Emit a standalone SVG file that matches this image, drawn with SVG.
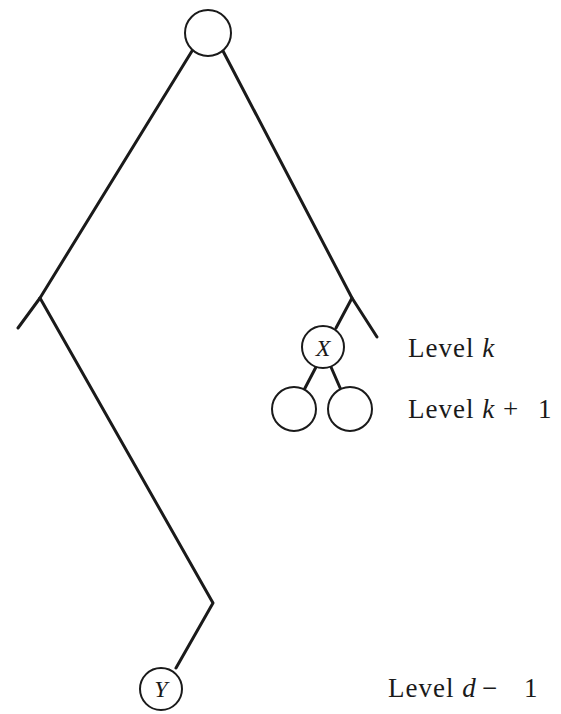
<svg xmlns="http://www.w3.org/2000/svg" width="561" height="714" viewBox="0 0 561 714">
<style>
.n{fill:#fff;stroke:#1a1a1a;stroke-width:2}
.e{fill:none;stroke:#1a1a1a;stroke-width:3;stroke-linecap:round;stroke-linejoin:round}
.t{font-family:"Liberation Serif",serif;font-size:27px;letter-spacing:1px;fill:#1a1a1a}
.i{font-style:italic}
.v{font-family:"Liberation Serif",serif;font-size:24px;font-style:italic;fill:#1a1a1a}
</style>
<rect width="561" height="714" fill="#fff"/>
<g id="connectors">
<path class="e" d="M192,51 L40,298 L18,328"/>
<path class="e" d="M40,298 L213,603 L176,668"/>
<path class="e" d="M223,51 L352,298 L377,337"/>
<path class="e" d="M352,298 L336,328"/>
<path class="e" d="M316,367 L304,390"/>
<path class="e" d="M331,367 L341,390"/>
</g>
<g id="root"><circle class="n" cx="208" cy="33" r="23"/></g>
<g id="X"><circle class="n" cx="323" cy="347" r="21"/><text class="v" x="323" y="356" text-anchor="middle">X</text></g>
<g id="c1"><circle class="n" cx="294" cy="409" r="22"/></g>
<g id="c2"><circle class="n" cx="350" cy="409" r="22"/></g>
<g id="Y"><circle class="n" cx="161" cy="689" r="21"/><text class="v" x="161" y="697" text-anchor="middle">Y</text></g>
<g id="labels">
<text class="t" x="408" y="357">Level <tspan class="i">k</tspan></text>
<text class="t" x="408" y="418">Level <tspan class="i">k</tspan><tspan x="503">+</tspan><tspan x="538">1</tspan></text>
<text class="t" x="388" y="697">Level <tspan class="i">d</tspan><tspan x="482">−</tspan><tspan x="524">1</tspan></text>
</g>
</svg>
